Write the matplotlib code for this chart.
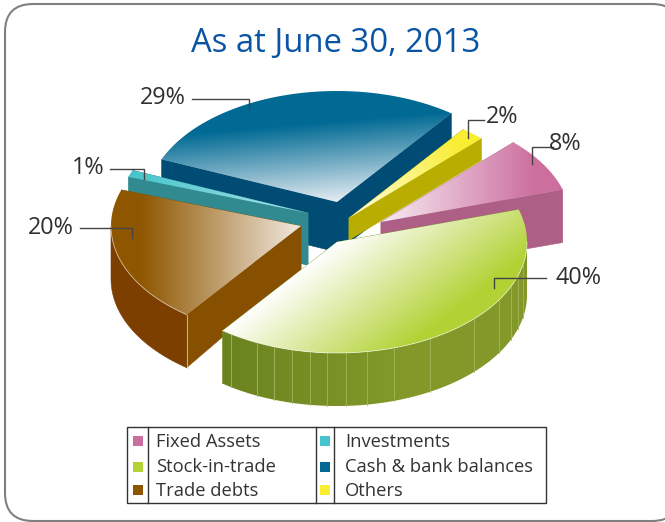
import numpy as np
import matplotlib
matplotlib.use('Agg')
import matplotlib.pyplot as plt
from matplotlib.colors import LinearSegmentedColormap
from matplotlib.patches import Polygon, Rectangle, FancyBboxPatch

# data
categories = ['Stock-in-trade', 'Trade debts', 'Investments', 'Cash & bank balances', 'Others', 'Fixed Assets']
shares = [40, 20, 1, 29, 2, 8]
pct_labels = ['40%', '20%', '1%', '29%', '2%', '8%']
legend_left = ['Fixed Assets', 'Stock-in-trade', 'Trade debts']
legend_right = ['Investments', 'Cash & bank balances', 'Others']

# layout, pixels
RX, RY = 190, 111
START = -17
apex = [(337, 242), (301, 226), (308, 213), (337, 202), (349, 218), (381, 222)]
depth_apex = [53, 44, 52, 50, 22, 52]
depth_rim = [53, 53, 52, 50, 22, 53]
draw_order = [3, 4, 5, 2, 1, 0]

# styles
base_color = ['#b2d235', '#8f5600', '#46c3cc', '#006a94', '#f9ed32', '#cc6f9f']
pale_color = ['#ffffff', '#f2e9df', '#a9e3e6', '#edf1f6', '#fffde0', '#f7eaf1']
radial_color = ['#7f9a25', '#875000', '#308a90', '#004c74', '#b8ad00', '#ae5f85']
arc_color = ['#7f9a25', '#7c3f00', '#308a90', '#004c74', '#b8ad00', '#ae5f85']
# gradient: pale point -> full colour point
grad = [((222, 331), (300, 432)), ((300, 226), (140, 226)), ((300, 213), (130, 175)),
        ((337, 205), (330, 122)), ((352, 218), (462, 150)), ((383, 222), (535, 222))]
green_seams = [124, 115, 109.3, 103.7, 98.2, 93, 87.3, 81, 72.5, 60.7, 43.8, 31.5, 23.7, 17.6, 11.7]

leaders = [
    [(546, 278), (494, 278), (494, 288)],
    [(80, 228), (131.5, 228), (131.5, 238)],
    [(110, 169), (144, 169), (144, 179)],
    [(192, 99), (249, 99), (249, 109)],
    [(484, 120), (468, 120), (468, 138)],
    [(553, 146.5), (532, 146.5), (532, 164)],
]
label_pos = [(579, 278.5), (51, 227.5), (88, 168.5), (163, 97.5), (502, 117), (565, 144.5)]

plt.rcParams['font.family'] = ['Open Sans', 'DejaVu Sans']

fig = plt.figure(figsize=(6.65, 5.22), dpi=100)
ax = fig.add_axes([0, 0, 1, 1])
ax.set_axis_off()

frame = FancyBboxPatch((5, 4), 675, 517, boxstyle='round,pad=0,rounding_size=28',
                       fc='white', ec='#808080', lw=1.5, clip_on=True)
ax.add_patch(frame)


def rim(cx, cy, a0, a1):
    t = np.radians(np.linspace(a0, a1, max(int(abs(a1 - a0)) * 2, 2)))
    return np.column_stack([cx + RX * np.cos(t), cy + RY * np.sin(t)])


def fill_gradient(poly, p0, p1, pale, full):
    x0, y0 = poly.min(axis=0)
    x1, y1 = poly.max(axis=0)
    X, Y = np.meshgrid(np.arange(x0 - 1, x1 + 2), np.arange(y0 - 1, y1 + 2))
    d = np.array(p1, float) - np.array(p0, float)
    t = ((X - p0[0]) * d[0] + (Y - p0[1]) * d[1]) / (d @ d)
    cmap = LinearSegmentedColormap.from_list('g', [pale, full])
    im = ax.imshow(np.clip(t, 0, 1), cmap=cmap, vmin=0, vmax=1, aspect='auto', interpolation='bilinear',
                   extent=(x0 - 1.5, x1 + 1.5, y1 + 1.5, y0 - 1.5), zorder=2)
    clip = Polygon(poly, closed=True, transform=ax.transData, fc='none', ec='none')
    ax.add_patch(clip)
    im.set_clip_path(clip)


edges = np.cumsum([0] + shares) * 360 / sum(shares) + START

for z, i in enumerate(draw_order):
    cx, cy = apex[i]
    a0, a1 = edges[i], edges[i + 1]
    top = rim(cx, cy, a0, a1)
    apex_low = (cx, cy + depth_apex[i])
    low = top + [0, depth_rim[i]]

    # radial side faces
    for pt, pt_low in ((top[0], low[0]), (top[-1], low[-1])):
        ax.add_patch(Polygon([(cx, cy), pt, pt_low, apex_low], closed=True, fc=radial_color[i],
                             ec=radial_color[i], lw=0.4, zorder=2))

    # outer wall, only the part that faces the viewer
    a_front0, a_front1 = max(a0, 0), min(a1, 180)
    if a_front1 > a_front0:
        wall_top = rim(cx, cy, a_front0, a_front1)
        wall = np.vstack([wall_top, (wall_top + [0, depth_rim[i]])[::-1]])
        if i == 0:
            # wall of the big slice goes darker to the left
            fill_gradient(wall, (222, 380), (400, 380), '#6b831f', '#82992a')
        else:
            ax.add_patch(Polygon(wall, closed=True, fc=arc_color[i], ec=arc_color[i], lw=0.4, zorder=2))
    if i == 0:
        for a in green_seams:
            p = rim(cx, cy, a, a + 0.01)[0]
            ax.plot([p[0], p[0]], [p[1], p[1] + depth_rim[i]], color='#a3b65c', lw=0.6, zorder=2)

    poly = np.vstack([[(cx, cy)], top])
    fill_gradient(poly, grad[i][0], grad[i][1], pale_color[i], base_color[i])
    if i in (0, 1):
        front = rim(cx, cy, max(a0, 0), min(a1, 180))
        ax.plot(front[:, 0], front[:, 1], color='white', alpha=0.6, lw=0.6, zorder=2)
    if i == 1:
        ax.plot([top[0][0]] * 2, [top[0][1], low[0][1]], color='#d8c0a0', lw=0.6, zorder=2)

# leader lines and percent labels
for pts, pos, txt in zip(leaders, label_pos, pct_labels):
    ax.plot(*zip(*pts), color='#444444', lw=1.0, zorder=3, solid_joinstyle='miter')
    ax.text(pos[0], pos[1], txt, ha='center', va='center', fontsize=16.8, color='#2f2f2f', zorder=4)

ax.text(336, 43, 'As at June 30, 2013', ha='center', va='center', fontsize=23.7, color='#0a54a4', zorder=4)

# legend table
ax.add_patch(Rectangle((127, 427), 419, 76, fc='white', ec='#333333', lw=1.0, zorder=3))
for x in (148, 316, 334):
    ax.plot([x, x], [427, 503], color='#333333', lw=1.0, zorder=3)

colour_of = dict(zip(categories, base_color))
for names, sw_x, tx_x in ((legend_left, 133, 156), (legend_right, 320, 345)):
    for name, y in zip(names, (441, 466.5, 490)):
        ax.add_patch(Rectangle((sw_x, y - 5), 10, 10, fc=colour_of[name], ec='none', zorder=4))
        ax.text(tx_x, y + 1, name, ha='left', va='center', fontsize=13.2, color='#333333', zorder=4)

ax.set_xlim(0, 665)
ax.set_ylim(522, 0)
fig.savefig('out.png', dpi=100)
